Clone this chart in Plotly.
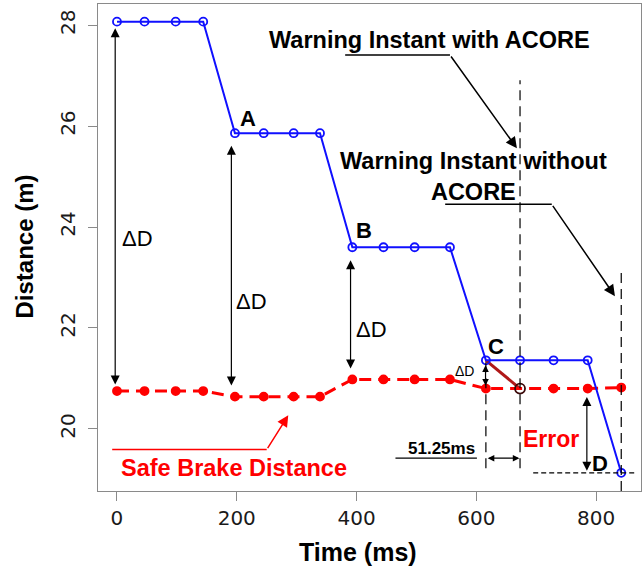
import plotly.graph_objects as go

# ---- data ----
time_ms = [0, 46, 98, 144, 197, 245, 295, 339, 393, 445, 497, 556, 616, 673, 729, 786, 842]
distance = [28.07, 28.07, 28.07, 28.07, 25.86, 25.86, 25.86, 25.86,
            23.60, 23.60, 23.60, 23.60, 21.36, 21.36, 21.36, 21.36, 19.13]
safe_brake = [20.75, 20.75, 20.75, 20.75, 20.64, 20.64, 20.64, 20.64,
              20.98, 20.98, 20.98, 20.98, 20.80, 20.80, 20.80, 20.80, 20.82]
x_ticks = [0, 200, 400, 600, 800]
y_ticks = [20, 22, 24, 26, 28]

iC, iW, iD = 12, 13, 16   # point C, warning instant with ACORE, point D

XR = [-31.7, 875]
YR = [18.77, 28.42]

BLUE = "#1010ff"
RED = "#ff0000"
DARKRED = "#b01818"
FONT = "Liberation Sans"

fig = go.Figure()

# predicted error segment from C
fig.add_trace(go.Scatter(x=[time_ms[iC], time_ms[iW]], y=[distance[iC], safe_brake[iW]],
                         mode="lines", line=dict(color=DARKRED, width=3), hoverinfo="skip"))

# safe brake distance series
sym = ["circle"] * len(time_ms)
col = [RED] * len(time_ms)
siz = [8] * len(time_ms)
sym[iW] = "circle-open"
col[iW] = "#3a0808"
siz[iW] = 10
fig.add_trace(go.Scatter(x=time_ms, y=safe_brake, mode="lines+markers",
                         line=dict(color=RED, width=3, dash="12px,7px"),
                         marker=dict(symbol=sym, color=col, size=siz, opacity=1,
                                     line=dict(color=col, width=1.8))))

# distance series
fig.add_trace(go.Scatter(x=time_ms, y=distance, mode="lines+markers",
                         line=dict(color=BLUE, width=2),
                         marker=dict(symbol="circle-open", color=BLUE, size=8, opacity=1,
                                     line=dict(width=1.8))))

shapes = []
def dline(x0, y0, x1, y1, dash="10px,6px", color="black", width=1.2):
    shapes.append(dict(type="line", xref="x", yref="y", x0=x0, y0=y0, x1=x1, y1=y1,
                       line=dict(color=color, width=width, dash=dash), layer="above"))

dline(time_ms[iW], 19.22, time_ms[iW], 26.91)
dline(time_ms[iC], 19.22, time_ms[iC], distance[iC])
dline(time_ms[iD], YR[0], time_ms[iD], 23.09)
dline(695, distance[iD], 865, distance[iD], dash="5px,3px")
# leader underlines
dline(381, 27.41, 556, 27.41, dash="solid", width=1.5)
dline(548, 24.45, 726, 24.45, dash="solid", width=1.5)
dline(-8, 19.59, 250, 19.59, dash="solid", color=RED, width=1.5)
dline(465, 19.42, 601, 19.42, dash="solid", width=1.2)

ann = []
def text(x, y, s, size=23.5, color="black", bold=True):
    ann.append(dict(x=x, y=y, xref="x", yref="y", text=s, showarrow=False,
                    font=dict(family=FONT, size=size, color=color,
                              weight="bold" if bold else "normal"),
                    xanchor="center", yanchor="middle"))

def arrow(x0, y0, x1, y1, color="black", both=False, width=1.2, size=1.5):
    a = dict(x=x1, y=y1, ax=x0, ay=y0, xref="x", yref="y", axref="x", ayref="y",
             text="", showarrow=True, arrowhead=2, arrowsize=size, arrowwidth=width,
             arrowcolor=color, standoff=0, startstandoff=0)
    if both:
        a.update(arrowside="end+start", startarrowhead=2, startarrowsize=size)
    ann.append(a)

# Delta D arrows
arrow(-3, 20.85, -3, 27.94, both=True)
arrow(191, 20.83, 191, 25.61, both=True)
arrow(390, 21.17, 390, 23.34, both=True)
arrow(615.4, 20.83, 615.4, 21.26, both=True, size=1.1)
arrow(784.6, 20.66, 784.6, 19.17, both=True)
arrow(616.5, 19.42, 672, 19.42, both=True, size=1.1)

# leader arrows
arrow(556, 27.41, 667.8, 25.56, width=1.5)
arrow(726, 24.45, 831.5, 22.63, width=1.5)
arrow(250, 19.59, 286, 20.27, color=RED, width=1.5)

text(521.4, 27.71, "Warning Instant with ACORE")
text(594.5, 25.0, "Warning Instant without<br>ACORE")
text(195.8, 19.22, "Safe Brake Distance", color=RED)
text(725, 19.81, "Error", color=RED, size=23)
text(541.4, 19.61, "51.25ms", size=17)
text(218.4, 26.155, "A", size=22)
text(412.9, 23.94, "B", size=22)
text(632.4, 21.63, "C", size=22)
text(806.8, 19.32, "D", size=22)
text(33.9, 23.78, "ΔD", size=22, bold=False)
text(224.2, 22.52, "ΔD", size=22, bold=False)
text(424.5, 21.97, "ΔD", size=22, bold=False)
text(579.8, 21.15, "ΔD", size=14, bold=False)

# axis titles
ann.append(dict(x=-0.1344, y=0.502, xref="paper", yref="paper", text="Distance (m)",
                showarrow=False, textangle=-90, xanchor="center", yanchor="middle",
                font=dict(family=FONT, size=24, color="black", weight="bold")))
ann.append(dict(x=0.479, y=-0.125, xref="paper", yref="paper", text="Time (ms)",
                showarrow=False, xanchor="center", yanchor="middle",
                font=dict(family=FONT, size=25, color="black", weight="bold")))

axis_common = dict(showgrid=False, zeroline=False, showline=True, linecolor="#8a8a8a",
                   linewidth=1.2, mirror=True, ticks="outside", ticklen=9,
                   tickcolor="#8a8a8a", tickwidth=1.2, automargin=False,
                   tickfont=dict(family="DejaVu Sans", size=20, color="#1a1a1a"))

fig.update_layout(
    width=644, height=571,
    margin=dict(l=98, r=3, t=4, b=80, autoexpand=False),
    paper_bgcolor="white", plot_bgcolor="white",
    showlegend=False,
    xaxis=dict(range=XR, tickvals=x_ticks, **axis_common),
    yaxis=dict(range=YR, tickvals=y_ticks, tickangle=-90, ticklabelstandoff=5, **axis_common),
    shapes=shapes, annotations=ann,
)

fig.write_html("out.html", config={"displayModeBar": False},
               post_script="document.body.style.margin='0';document.body.style.overflow='hidden';")
